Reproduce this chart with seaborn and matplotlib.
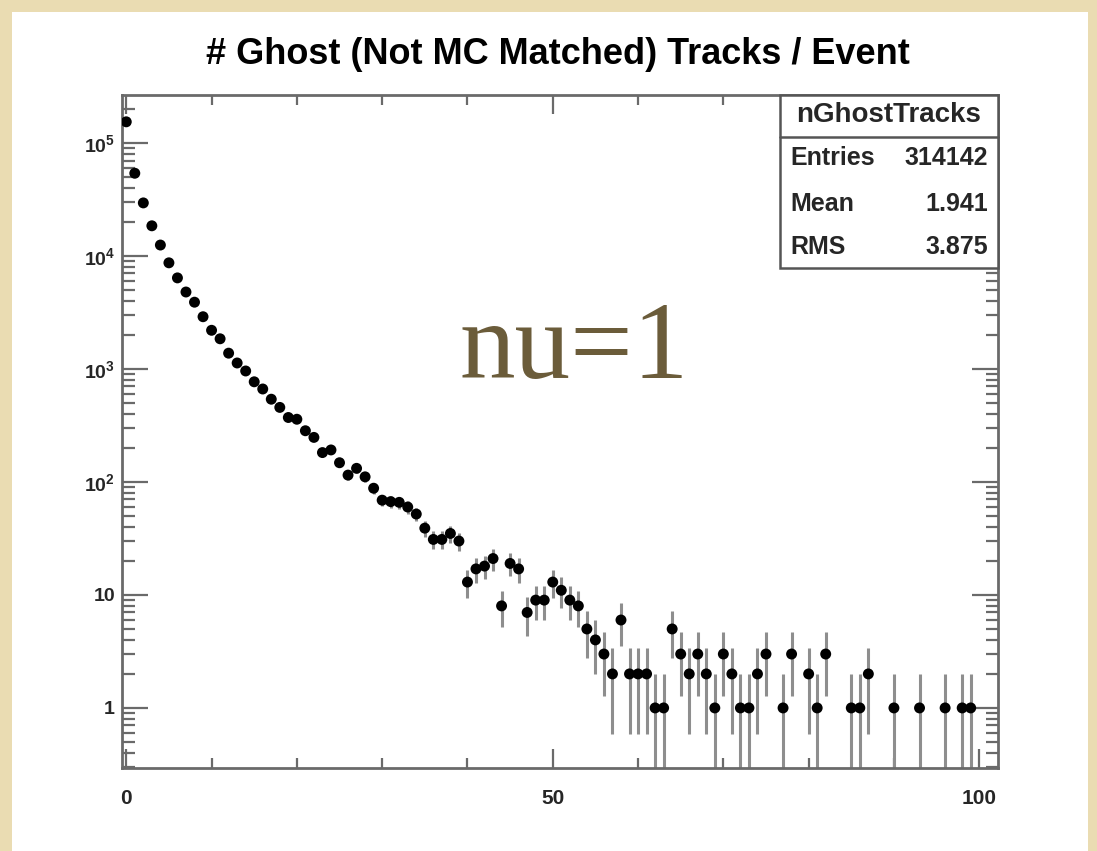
import numpy as np
import pandas as pd
import matplotlib
matplotlib.use("Agg")
import matplotlib.pyplot as plt
import seaborn as sns
from matplotlib.patches import Rectangle
from matplotlib.lines import Line2D
from matplotlib.ticker import FixedLocator, LogLocator, NullFormatter

# ---------------- data ----------------
title = "# Ghost (Not MC Matched) Tracks / Event"
bin_centers = list(range(100))
counts = [
    154000, 54000, 29500, 18500, 12500, 8700, 6400, 4800, 3900, 2900,   # 0-9
    2200, 1850, 1380, 1130, 960, 770, 665, 540, 457, 372,               # 10-19
    359, 284, 248, 182, 192, 148, 115, 132, 111, 88,                    # 20-29
    69, 67, 66, 60, 52, 39, 31, 31, 35, 30,                             # 30-39
    13, 17, 18, 21, 8, 19, 17, 7, 9, 9,                                 # 40-49
    13, 11, 9, 8, 5, 4, 3, 2, 6, 2,                                     # 50-59
    2, 2, 1, 1, 5, 3, 2, 3, 2, 1,                                       # 60-69
    3, 2, 1, 1, 2, 3, 0, 1, 3, 0,                                       # 70-79
    2, 1, 3, 0, 0, 1, 1, 2, 0, 0,                                       # 80-89
    1, 0, 0, 1, 0, 0, 1, 0, 1, 1,                                       # 90-99
]
stats_name = "nGhostTracks"
stats_labels = ["Entries", "Mean", "RMS"]
stats_values = ["314142", "1.941", "3.875"]
overlay_text = "nu=1"
x_major_ticks = [0, 50, 100]
x_minor_ticks = [10, 20, 30, 40, 60, 70, 80, 90]
y_ticks = [1, 10, 100, 1000, 10000, 100000]
y_tick_labels = ["1", "10", r"$10^{2}$", r"$10^{3}$", r"$10^{4}$", r"$10^{5}$"]

# ---------------- style ----------------
sns.set_style("white")
plt.rcParams["font.family"] = ["Liberation Sans", "DejaVu Sans"]
plt.rcParams["mathtext.fontset"] = "custom"
plt.rcParams["mathtext.rm"] = "Liberation Sans:bold"
plt.rcParams["mathtext.bf"] = "Liberation Sans:bold"
plt.rcParams["mathtext.it"] = "Liberation Sans:bold"
plt.rcParams["mathtext.default"] = "rm"

W, H = 1097, 851
fig = plt.figure(figsize=(W / 100, H / 100), dpi=100)
fig.patch.set_facecolor("#eadcb2")


def fx(px):
    return px / W


def fy(py):
    return 1 - py / H


# white canvas (behind everything)
fig.patches.append(Rectangle((fx(12), 0), fx(1088) - fx(12), fy(12),
                             transform=fig.transFigure, facecolor="white",
                             edgecolor="none", zorder=-10))

ax = fig.add_axes([fx(122), fy(768), fx(998) - fx(122), fy(95) - fy(768)])
ax.set_zorder(1)
ax.set_facecolor("white")

df = pd.DataFrame({"x": bin_centers, "n": counts})
df = df[df["n"] > 0].copy()
df["err"] = np.sqrt(df["n"])

ax.vlines(df["x"], np.maximum(df["n"] - df["err"], 1e-3), df["n"] + df["err"],
          color="#8e8e8e", lw=2.2, zorder=2)
sns.scatterplot(data=df, x="x", y="n", color="black", s=62, edgecolor="none",
                linewidth=0, ax=ax, zorder=3, legend=False)

ax.set_yscale("log")
ax.set_xlim(-0.5, 102.2)
ax.set_ylim(0.294, 2.66e5)
ax.set_xlabel("")
ax.set_ylabel("")

for s in ax.spines.values():
    s.set_color("#6a6a6a")
    s.set_linewidth(2)

ax.xaxis.set_major_locator(FixedLocator(x_major_ticks))
ax.xaxis.set_minor_locator(FixedLocator(x_minor_ticks))
ax.set_xticklabels([str(t) for t in x_major_ticks])
ax.yaxis.set_major_locator(FixedLocator(y_ticks))
ax.set_yticklabels(y_tick_labels)
ax.yaxis.set_minor_locator(LogLocator(base=10, subs=np.arange(2, 10)))
ax.yaxis.set_minor_formatter(NullFormatter())

ax.tick_params(axis="x", which="major", direction="in", length=14, width=1.6,
               color="#6a6a6a", top=True, bottom=True, labelsize=15, pad=15)
ax.tick_params(axis="x", which="minor", direction="in", length=7, width=1.6,
               color="#6a6a6a", top=True, bottom=True)
ax.tick_params(axis="y", which="major", direction="in", length=19, width=1.6,
               color="#6a6a6a", left=True, right=True, labelsize=14, pad=5)
ax.tick_params(axis="y", which="minor", direction="in", length=9, width=1.6,
               color="#6a6a6a", left=True, right=True)
for lab in ax.get_xticklabels() + ax.get_yticklabels():
    lab.set_fontweight("bold")

# title
fig.text(fx(558), fy(55), title, ha="center", va="center", fontsize=26,
         fontweight="bold", color="black")

# stats box
bx0, bx1, by0, by1 = 780, 998, 95, 268
fig.patches.append(Rectangle((fx(bx0), fy(by1)), fx(bx1) - fx(bx0), fy(by0) - fy(by1),
                             transform=fig.transFigure, facecolor="white",
                             edgecolor="#555555", lw=1.8, zorder=5))
fig.lines.append(Line2D([fx(bx0), fx(bx1)], [fy(137), fy(137)],
                        transform=fig.transFigure, color="#555555", lw=1.8, zorder=6))
fig.text(fx((bx0 + bx1) / 2), fy(115), stats_name, ha="center", va="center",
         fontsize=20, fontweight="bold", zorder=7)
row_y = [158, 204, 247]
for lab, val, yy in zip(stats_labels, stats_values, row_y):
    fig.text(fx(790), fy(yy), lab, ha="left", va="center", fontsize=18,
             fontweight="bold", zorder=7)
    fig.text(fx(988), fy(yy), val, ha="right", va="center", fontsize=18,
             fontweight="bold", zorder=7)

# overlay annotation
fig.text(fx(574), fy(378), overlay_text, ha="center", va="baseline", fontsize=80,
         family=["Liberation Serif", "DejaVu Serif"], color="#6b5c3a", zorder=8)

fig.savefig("out.png", dpi=100, facecolor=fig.get_facecolor())
